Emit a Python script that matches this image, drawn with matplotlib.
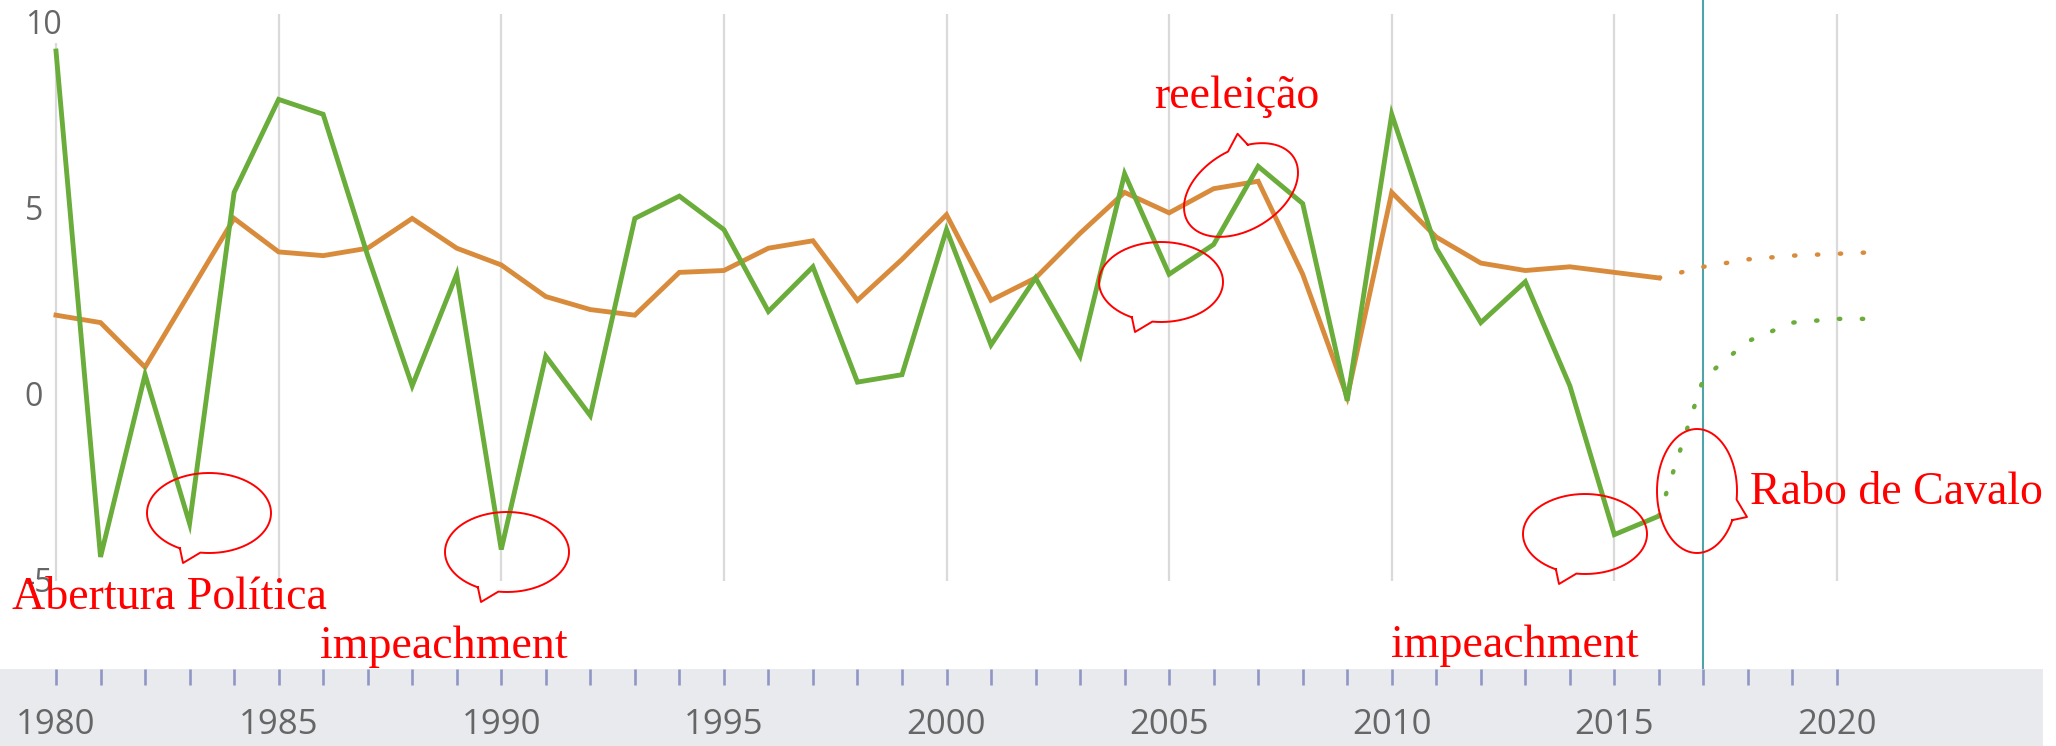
import numpy as np
import matplotlib
matplotlib.use('Agg')
import matplotlib.pyplot as plt

# PIB Brasil (verde) x PIB mundial (laranja), variação anual %
years = list(range(1980, 2017))
brasil = [9.3, -4.3, 0.6, -3.4, 5.5, 8.0, 7.6, 3.8, 0.3, 3.3,
          -4.1, 1.1, -0.5, 4.8, 5.4, 4.5, 2.3, 3.5, 0.4, 0.6,
          4.5, 1.4, 3.2, 1.1, 6.0, 3.3, 4.1, 6.2, 5.2, -0.1,
          7.6, 4.0, 2.0, 3.1, 0.3, -3.7, -3.2]
mundo = [2.2, 2.0, 0.8, 2.8, 4.8, 3.9, 3.8, 4.0, 4.8, 4.0,
         3.55, 2.7, 2.35, 2.2, 3.35, 3.4, 4.0, 4.2, 2.6, 3.7,
         4.9, 2.6, 3.2, 4.4, 5.5, 4.95, 5.6, 5.8, 3.3, 0.0,
         5.5, 4.3, 3.6, 3.4, 3.5, 3.35, 3.2]

# projeções
proj_years = [2016, 2017, 2018, 2019, 2020, 2021]
brasil_proj = [-3.2, 0.5, 1.5, 2.0, 2.1, 2.1]
mundo_proj = [3.2, 3.5, 3.7, 3.8, 3.85, 3.9]

y_ticks = [10, 5, 0, -5]
y_labels = ['10', '5', '0', '-5']
x_label_years = [1980, 1985, 1990, 1995, 2000, 2005, 2010, 2015, 2020]
tick_years = list(range(1980, 2021))
today = 2017

notes = ['Abertura Política', 'impeachment', 'impeachment', 'reeleição', 'Rabo de Cavalo']

GREEN = '#6aad3b'
ORANGE = '#d98b3c'
W, H = 2056, 746

# pixel mapping of the original screenshot
px_year, x1980 = 44.525, 56
px_unit, y0 = 37.2, 397
xlim = (1980 - x1980 / px_year, 1980 + (W - x1980) / px_year)
ylim = (-(H - y0) / px_unit, y0 / px_unit)

fig = plt.figure(figsize=(W / 100, H / 100), dpi=100)
ax = fig.add_axes([0, 0, 1, 1])
ax.set_xlim(*xlim)
ax.set_ylim(*ylim)
ax.axis('off')

ax.vlines(x_label_years, -4.95, 10.3, color='#dadada', lw=1.6, zorder=1)
ax.axvline(today, color='#4fa3ab', lw=1.5, zorder=2)

for v, lab in zip(y_ticks, y_labels):
    ax.text(0.012, v, lab, transform=ax.get_yaxis_transform(), ha='left', va='center',
            fontsize=23, color='#666666', family='Open Sans', zorder=3,
            bbox=dict(facecolor='white', edgecolor='none', pad=1))

ax.plot(years, mundo, color=ORANGE, lw=3.5, solid_joinstyle='miter', zorder=4)
ax.plot(years, brasil, color=GREEN, lw=3.5, solid_joinstyle='miter', zorder=5)
dots = (0, (0.3, 4.85))
ax.plot(proj_years, mundo_proj, color=ORANGE, lw=3.2, linestyle=dots,
        dash_capstyle='round', zorder=4)
ax.plot(proj_years, brasil_proj, color=GREEN, lw=3.2, linestyle=dots,
        dash_capstyle='round', zorder=5)

# bottom navigator band with year ticks
band_h = 77
bx = fig.add_axes([0, 0, 2043 / W, band_h / H])
bx.set_xlim(xlim[0], xlim[0] + (xlim[1] - xlim[0]) * 2043 / W)
bx.set_ylim(0, 1)
bx.set_facecolor('#e8eaed')
for s in bx.spines.values():
    s.set_visible(False)
bx.set_yticks([])
bx.set_xticks(tick_years)
bx.tick_params(axis='x', top=True, bottom=False, direction='in', length=11.5, width=1.9,
               color='#9096c4', labeltop=False, labelbottom=False)
for yr in x_label_years:
    bx.text(yr, 0.27, str(yr), ha='center', va='center', fontsize=25,
            color='#666666', family='Open Sans')

# overlay in screenshot pixels for the hand-drawn notes
ov = fig.add_axes([0, 0, 1, 1])
ov.set_xlim(0, W)
ov.set_ylim(H, 0)
ov.axis('off')
ov.patch.set_alpha(0)


def callout(cx, cy, ang, a=62, b=40):
    t = np.radians(np.linspace(118, 98 + 360, 240))
    xs = np.append(a * np.cos(t), [-26, a * np.cos(t[0])])
    ys = np.append(b * np.sin(t), [50, b * np.sin(t[0])])
    r = np.radians(ang)
    ov.plot(cx + xs * np.cos(r) - ys * np.sin(r), cy + xs * np.sin(r) + ys * np.cos(r),
            color='red', lw=1.4)


for cx, cy, ang in [(209, 513, 0), (507, 552, 0), (1161, 282, 0),
                    (1241, 190, 149), (1585, 534, 0), (1697, 491, -90)]:
    callout(cx, cy, ang)

red = dict(color='red', fontsize=33, family='Liberation Serif', va='baseline')
ov.text(12, 609, notes[0], **red)
ov.text(320, 658, notes[1], **red)
ov.text(1391, 657, notes[2], **red)
ov.text(1154, 108, notes[3], **red)
ov.text(1750, 504, notes[4], **red)

fig.savefig('out.png', dpi=100)
